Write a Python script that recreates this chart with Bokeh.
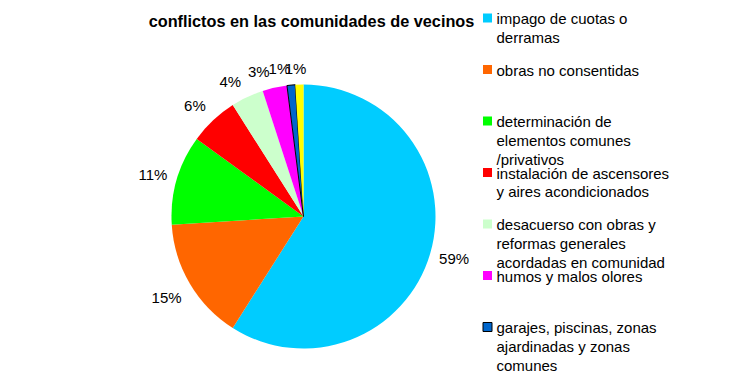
import math
from bokeh.plotting import figure
from bokeh.models import Range1d, ColumnDataSource
from bokeh.core.properties import value
from bokeh.embed import file_html
from bokeh.resources import INLINE

# ---- data ----
title = "conflictos en las comunidades de vecinos"
values = [59, 15, 11, 6, 4, 3, 1, 1]
pct_labels = ["59%", "15%", "11%", "6%", "4%", "3%", "1%", "1%"]
legend_lines = [
    ["impago de cuotas o", "derramas"],
    ["obras no consentidas"],
    ["determinación de", "elementos comunes", "/privativos"],
    ["instalación de ascensores", "y aires acondicionados"],
    ["desacuerso con obras y", "reformas generales", "acordadas en comunidad"],
    ["humos y malos olores"],
    ["garajes, piscinas, zonas", "ajardinadas y zonas", "comunes"],
]
categories = [" ".join(l) for l in legend_lines] + ["otros"]
colors = ["#00CCFF", "#FF6600", "#00FF00", "#FF0000", "#CCFFCC", "#FF00FF", "#0066CC", "#FFFF00"]
outlined = [False, False, False, False, False, False, True, False]

# ---- layout (picture pixel coordinates, y measured from top) ----
W, H = 724, 373
FONT = "Liberation Sans"
def Y(img_y):
    return 389 - img_y

CX, CY, R = 303, Y(216), 132
R0, GAP, FS = 137, 4, 15

def clamp(u):
    return max(-1.0, min(1.0, u))

def fx(u):
    return clamp(8.0 * u)

def fy(u):
    return clamp(math.copysign((abs(u) / 0.5) ** 2, u))

p = figure(width=W, height=H, output_backend="svg", toolbar_location=None,
           x_range=Range1d(0, W), y_range=Range1d(389 - H, 389),
           min_border=0, outline_line_color=None)
p.axis.visible = False
p.grid.visible = False
p.background_fill_color = "white"
p.border_fill_color = "white"

total = float(sum(values))
starts, ends, lx, ly = [], [], [], []
cum = 0.0
for v, lab in zip(values, pct_labels):
    f0, f1 = cum / total, (cum + v) / total
    starts.append(math.pi / 2 - 2 * math.pi * f0)
    ends.append(math.pi / 2 - 2 * math.pi * f1)
    th = 2 * math.pi * (f0 + f1) / 2
    dx, dy = math.sin(th), math.cos(th)
    ax, ay = CX + R0 * dx, CY + R0 * dy
    w = FS * (0.556 * (len(lab) - 1) + 0.889)
    hw, hh = w / 2 + GAP, FS / 2 + GAP
    lx.append(ax + hw * fx(dx))
    ly.append(ay + hh * fy(dy))
    cum += v

src = ColumnDataSource(dict(cat=categories, val=values, start=starts, end=ends,
                            color=colors,
                            lalpha=[1.0 if o else 0.0 for o in outlined]))
p.wedge(x=CX, y=CY, radius=R, start_angle="start", end_angle="end",
        direction="clock", fill_color="color", line_color="black",
        line_alpha="lalpha", line_width=1, source=src)

p.text(x=lx, y=ly, text=pct_labels, text_font=value(FONT), text_font_size=f"{FS}px",
       text_align="center", text_baseline="middle", text_color="black")

# title
p.text(x=[311], y=[Y(20)], text=[title], text_font=value(FONT), text_font_size="16.3px",
       text_font_style="bold", text_align="center", text_baseline="middle", text_color="black")

# legend (manual, wrapped lines)
LX_SQ, LX_TXT, LY0, STEP, LINE = 487, 496, 17.5, 51.5, 18.8
sq_x, sq_y, sq_c, sq_a = [], [], [], []
tx, ty, tt = [], [], []
for i, lines in enumerate(legend_lines):
    yc = LY0 + STEP * i
    sq_x.append(LX_SQ); sq_y.append(Y(yc)); sq_c.append(colors[i])
    sq_a.append(1.0 if outlined[i] else 0.0)
    for j, ln in enumerate(lines):
        tx.append(LX_TXT); ty.append(Y(yc + 0.5 + LINE * j)); tt.append(ln)
p.rect(x=sq_x, y=sq_y, width=9, height=9, fill_color=sq_c, line_color="black", line_alpha=sq_a)
p.text(x=tx, y=ty, text=tt, text_font=value(FONT), text_font_size=f"{FS}px",
       text_align="left", text_baseline="middle", text_color="black")

open("out.html", "w").write(file_html(p, INLINE))
